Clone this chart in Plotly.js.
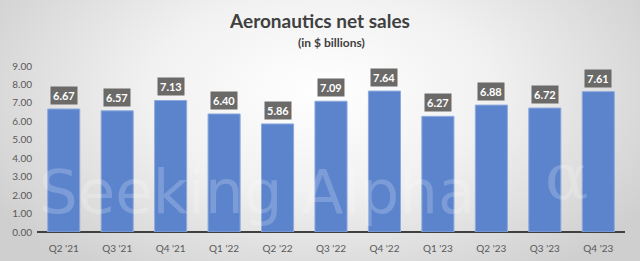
<!DOCTYPE html>
<html><head><meta charset="utf-8">
<script src="https://cdn.plot.ly/plotly-3.0.1.min.js"></script>
<style>
html,body{margin:0;padding:0;}
body{width:640px;height:261px;background:radial-gradient(ellipse 60% 85% at 50% 35%, #ffffff 0%, #f1f1f1 45%, #cfcfcf 100%);}
#chart{width:640px;height:261px;}
</style></head>
<body><div id="chart"></div>
<script>
var quarters = ["Q2 '21","Q3 '21","Q4 '21","Q1 '22","Q2 '22","Q3 '22","Q4 '22","Q1 '23","Q2 '23","Q3 '23","Q4 '23"];
var sales = [6.67,6.57,7.13,6.40,5.86,7.09,7.64,6.27,6.88,6.72,7.61];
var yTicks = [0,1,2,3,4,5,6,7,8,9];

var annotations = quarters.map(function(q,i){
  return {x:q, y:sales[i], xref:'x', yref:'y', text:'<b>'+sales[i].toFixed(2)+'</b>',
    showarrow:false, yanchor:'bottom', yshift:4, bgcolor:'#6b6a68',
    font:{family:'Lato, sans-serif', size:11, color:'#ffffff'}, borderpad:2};
});
annotations.push({xref:'paper', yref:'y', x:0, xanchor:'left', y:2.2, yanchor:'middle', text:'Seeking Alpha',
  showarrow:false, font:{family:'DejaVu Sans, sans-serif', size:61, color:'rgba(255,255,255,0.2)'}});
annotations.push({xref:'paper', yref:'y', x:0.9, xanchor:'center', y:3.0, yanchor:'middle', text:'\u03b1',
  showarrow:false, font:{family:'DejaVu Serif, serif', size:64, color:'rgba(255,255,255,0.2)'}});
annotations.push({xref:'paper', yref:'paper', x:0.5, y:1.0, yanchor:'bottom', yshift:14,
  text:'<b>(in $ billions)</b>', showarrow:false, font:{family:'Lato, sans-serif', size:12, color:'#404040'}});

var trace = {type:'bar', x:quarters, y:sales, marker:{color:'#5b84cc', line:{color:'#8eaadc', width:1}},
  hoverinfo:'skip'};

var layout = {
  width:640, height:261,
  paper_bgcolor:'rgba(0,0,0,0)', plot_bgcolor:'rgba(0,0,0,0)',
  margin:{l:37, r:15, t:66, b:29},
  bargap:0.4,
  title:{text:'<b>Aeronautics net sales</b>', x:0.5, xanchor:'center', y:0.92, yanchor:'middle',
    font:{family:'Lato, sans-serif', size:19, color:'#404040'}},
  xaxis:{type:'category', showgrid:false, zeroline:false, showline:false, ticks:'outside', ticklen:7,
    tickcolor:'rgba(0,0,0,0)', tickfont:{family:'Lato, sans-serif', size:10, color:'#595959'}},
  yaxis:{range:[0,9], tickvals:yTicks, ticktext:yTicks.map(function(v){return v.toFixed(2);}),
    showgrid:false, zeroline:true, zerolinecolor:'#404040', zerolinewidth:2, showline:false,
    tickfont:{family:'Lato, sans-serif', size:10, color:'#595959'}, ticklabelstandoff:4},
  annotations:annotations,
  showlegend:false
};
Plotly.newPlot('chart',[trace],layout,{staticPlot:true});
</script></body></html>
